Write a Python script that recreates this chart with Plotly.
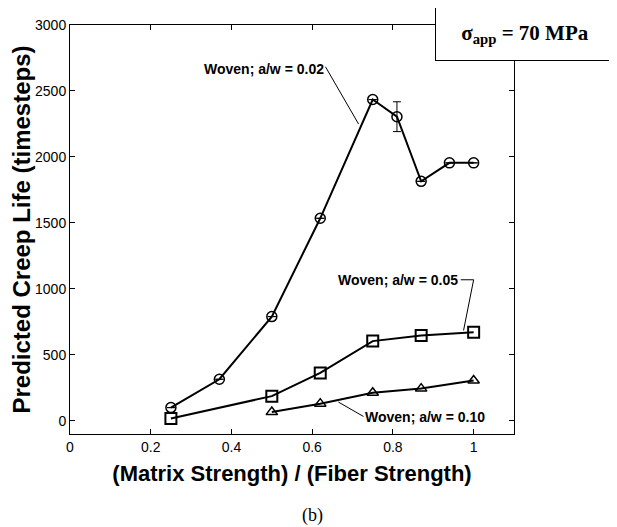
import plotly.graph_objects as go

# Data
x_002 = [0.25, 0.37, 0.50, 0.62, 0.75, 0.81, 0.87, 0.94, 1.00]
y_002 = [100, 315, 790, 1535, 2435, 2305, 1815, 1955, 1955]
err_002 = [0, 0, 0, 0, 0, 113, 0, 0, 0]

x_005 = [0.25, 0.50, 0.62, 0.75, 0.87, 1.00]
y_005 = [18, 187, 363, 604, 647, 672]

x_010 = [0.50, 0.62, 0.75, 0.87, 1.00]
y_010 = [66, 130, 213, 244, 305]

x_ticks = [0, 0.2, 0.4, 0.6, 0.8, 1]
y_ticks = [0, 500, 1000, 1500, 2000, 2500, 3000]

fig = go.Figure()
line = dict(color="black", width=2)
fig.add_trace(go.Scatter(
    x=x_002, y=y_002, mode="lines+markers", line=line,
    marker=dict(symbol="circle-open", size=10, color="black", line=dict(width=1.5)),
    error_y=dict(type="data", array=err_002, visible=True, color="black", thickness=1, width=4),
    showlegend=False))
fig.add_trace(go.Scatter(
    x=x_005, y=y_005, mode="lines+markers", line=line,
    marker=dict(symbol="square-open", size=11, color="black", line=dict(width=2)),
    showlegend=False))
fig.add_trace(go.Scatter(
    x=x_010, y=y_010, mode="lines+markers", line=line,
    marker=dict(symbol="triangle-up-open", size=10, color="black", line=dict(width=1.5)),
    showlegend=False))

lab_font = dict(family="Liberation Sans, Arial", size=14, color="black")
thin = dict(color="black", width=1)
# a/w = 0.02 label & leader
fig.add_shape(type="line", xref="x", yref="y", x0=0.633, y0=2683, x1=0.715, y1=2249, line=thin)
fig.add_annotation(x=0.633, y=2668, xref="x", yref="y", text="<b>Woven; a/w = 0.02</b>",
                   showarrow=False, xanchor="right", yanchor="middle", font=lab_font)
# a/w = 0.05
fig.add_shape(type="path", xref="x", yref="y",
              path="M 0.968 1069 L 1.0 1069 L 0.975 685", line=thin)
fig.add_annotation(x=0.967, y=1069, xref="x", yref="y", text="<b>Woven; a/w = 0.05</b>",
                   showarrow=False, xanchor="right", yanchor="middle", font=lab_font)
# a/w = 0.10
fig.add_shape(type="line", xref="x", yref="y", x0=0.665, y0=142, x1=0.727, y1=33, line=thin)
fig.add_annotation(x=0.727, y=30, xref="x", yref="y", text="<b>Woven; a/w = 0.10</b>",
                   showarrow=False, xanchor="left", yanchor="middle", font=lab_font)

# sigma box
fig.add_annotation(x=(517 - 62) / 444, y=1 - (26 - 17) / 409, xref="paper", yref="paper",
                   text="<b>σ<sub>app</sub> = 70 MPa</b>", showarrow=False,
                   xanchor="center", yanchor="middle",
                   font=dict(family="Liberation Serif, Times New Roman", size=21, color="black"),
                   bordercolor="black", borderwidth=1, bgcolor="white",
                   width=176, height=50)

# (b)
fig.add_annotation(x=(304 - 62) / 444, y=1 - (507 - 17) / 409, xref="paper", yref="paper",
                   text="(b)", showarrow=False,
                   font=dict(family="Liberation Serif, Times New Roman", size=18, color="black"),
                   xanchor="center", yanchor="middle")

axis_common = dict(showline=True, linecolor="black", linewidth=1, mirror="ticks",
                   ticks="inside", ticklen=5, tickcolor="black", showgrid=False, zeroline=False,
                   automargin=False,
                   tickfont=dict(family="Liberation Sans, Arial", size=14, color="black"))
fig.update_xaxes(range=[0, 1.1], tickvals=x_ticks, ticktext=[str(v) for v in x_ticks],
                 title=dict(text="<b>(Matrix Strength) / (Fiber Strength)</b>",
                            font=dict(family="Liberation Sans, Arial", size=22, color="black"),
                            standoff=11),
                 **axis_common)
fig.update_yaxes(range=[-100, 3000], tickvals=y_ticks,
                 title=dict(text="<b>Predicted Creep Life (timesteps)</b>",
                            font=dict(family="Liberation Sans, Arial", size=24, color="black"),
                            standoff=6),
                 **axis_common)

fig.update_layout(width=609, height=519, margin=dict(l=62, r=103, t=17, b=93),
                  plot_bgcolor="white", paper_bgcolor="white")

fig.write_html("out.html")
